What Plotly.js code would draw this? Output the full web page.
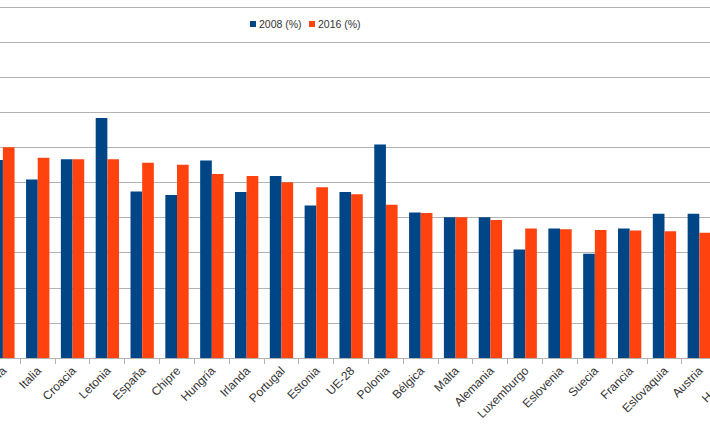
<!DOCTYPE html>
<html><head><meta charset="utf-8">
<script src="https://cdn.plot.ly/plotly-3.0.1.min.js"></script>
<style>
html,body{margin:0;padding:0;overflow:hidden;background:#fff;width:710px;height:434px}
#chart{position:absolute;left:0;top:0;width:760px;height:434px}
</style>
</head><body><div id="chart"></div>
<script>
const categories = ["Lituania","Italia","Croacia","Letonia","España","Chipre","Hungría","Irlanda","Portugal","Estonia","UE-28","Polonia","Bélgica","Malta","Alemania","Luxemburgo","Eslovenia","Suecia","Francia","Eslovaquia","Austria","Holanda"];
const values2008 = [28.3,25.5,28.4,34.3,23.8,23.3,28.2,23.7,26.0,21.8,23.7,30.5,20.8,20.1,20.1,15.5,18.5,14.9,18.5,20.6,20.6,null];
const values2016 = [30.1,28.6,28.4,28.4,27.9,27.6,26.3,26.0,25.1,24.4,23.4,21.9,20.7,20.1,19.7,18.5,18.4,18.3,18.2,18.1,17.9,null];
const seriesNames = ["2008 (%)","2016 (%)"];
const colors = ["#004586","#ff420e"];

const W = 760, PH = 358;
const traces = [values2008, values2016].map((v,i)=>({
  type:'bar', x:categories, y:v, name:seriesNames[i],
  marker:{color:colors[i], line:{width:0}}
}));

// legend drawn as shapes + annotations (small squares like the reference)
const legX = [250, 309];
const legY = 24;
const shapes = [], annotations = [];
seriesNames.forEach((n,i)=>{
  shapes.push({type:'rect', xref:'paper', yref:'paper', layer:'above',
    x0:legX[i]/W, x1:(legX[i]+6)/W, y0:1-(legY+3)/PH, y1:1-(legY-3)/PH,
    fillcolor:colors[i], line:{width:0}});
  annotations.push({xref:'paper', yref:'paper', x:(legX[i]+7)/W, y:1-legY/PH,
    xanchor:'left', yanchor:'middle', showarrow:false, text:n,
    font:{size:10.5, color:'#333'}});
});

const layout = {
  width:W, height:434,
  margin:{l:0,r:0,t:0,b:76,pad:0},
  paper_bgcolor:'#fff', plot_bgcolor:'#fff',
  font:{family:'"Liberation Sans", Arial, sans-serif', color:'#333', size:12},
  barmode:'group', bargap:0.33, bargroupgap:0,
  showlegend:false, shapes:shapes, annotations:annotations,
  xaxis:{type:'category', range:[-0.0833, 21.743], automargin:false,
         showgrid:false, showline:true, linecolor:'#b3b3b3', linewidth:1,
         ticks:'outside', tickson:'boundaries', ticklen:5, tickcolor:'#b3b3b3',
         tickangle:-45, tickfont:{size:12, color:'#333'}, fixedrange:true},
  yaxis:{range:[0,51.14], dtick:5, showgrid:true, gridcolor:'#b3b3b3', gridwidth:1,
         zeroline:false, showline:false, showticklabels:false, ticks:'', automargin:false, fixedrange:true}
};
Plotly.newPlot('chart', traces, layout, {displayModeBar:false, staticPlot:true});
</script>
</body></html>
